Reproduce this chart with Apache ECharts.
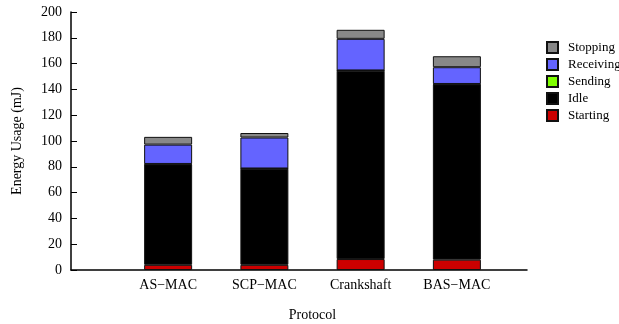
<!DOCTYPE html>
<html><head><meta charset="utf-8">
<script src="https://cdn.jsdelivr.net/npm/echarts@6/dist/echarts.min.js"></script>
<style>html,body{margin:0;padding:0;background:#fff}#c{width:619px;height:324px}</style>
</head><body><div id="c"></div>
<script>
var categories = ['AS\u2212MAC', 'SCP\u2212MAC', 'Crankshaft', 'BAS\u2212MAC'];
var starting = [4, 4, 8.5, 8];
var idle = [78, 74.5, 146, 136];
var sending = [0.2, 0.2, 0.2, 0.2];
var receiving = [15, 24, 24.5, 13];
var stopping = [6, 3.5, 7, 8.5];
var yTicks = [0, 20, 40, 60, 80, 100, 120, 140, 160, 180, 200];

var font = 'Liberation Serif, Times New Roman, serif';
function mk(name, vals, color){
  return {name:name, type:'bar', stack:'e', data:vals, barWidth:48,
    xAxisIndex:0, yAxisIndex:0,
    itemStyle:{color:color, borderColor:'#111', borderWidth:1}};
}
var chart = echarts.init(document.getElementById('c'));
chart.setOption({
  animation:false,
  textStyle:{fontFamily:font},
  grid:[
    {left:120, top:12, right:114, bottom:54, containLabel:false, outerBoundsMode:'none'},
    {left:71, top:12, right:92, bottom:54, containLabel:false, outerBoundsMode:'none'}
  ],
  legend:{orient:'vertical', left:541, top:36, itemWidth:11, itemHeight:11, itemGap:4,
    icon:'rect',
    data:['Stopping','Receiving','Sending','Idle','Starting'],
    textStyle:{fontFamily:font, fontSize:13, lineHeight:11, color:'#000', padding:[0,0,0,5]}},
  xAxis:[
    {type:'category', gridIndex:0, data:categories, boundaryGap:true,
      name:'Protocol', nameLocation:'middle', nameGap:38,
      nameTextStyle:{fontFamily:font, fontSize:14, color:'#000'},
      axisLine:{show:false}, axisTick:{show:false}, splitLine:{show:false},
      axisLabel:{fontFamily:font, fontSize:14, color:'#000', margin:8, interval:0}},
    {type:'value', gridIndex:1, min:0, max:1,
      axisLine:{show:true, lineStyle:{color:'#000', width:1.5}},
      axisTick:{show:false}, axisLabel:{show:false}, splitLine:{show:false}}
  ],
  yAxis:[
    {type:'value', gridIndex:0, min:yTicks[0], max:yTicks[yTicks.length-1], interval:20,
      show:false},
    {type:'value', gridIndex:1, min:yTicks[0], max:yTicks[yTicks.length-1], interval:20,
      name:'Energy Usage (mJ)', nameLocation:'middle', nameGap:47,
      nameTextStyle:{fontFamily:font, fontSize:14, color:'#000'},
      axisLine:{show:true, lineStyle:{color:'#000', width:1.5}},
      axisTick:{show:true, inside:true, length:6, lineStyle:{color:'#000'}},
      splitLine:{show:false},
      axisLabel:{fontFamily:font, fontSize:14, color:'#000', margin:9}}
  ],
  series:[
    mk('Starting', starting, '#cc0000'),
    mk('Idle', idle, '#000000'),
    mk('Sending', sending, '#7fff00'),
    mk('Receiving', receiving, '#6464ff'),
    mk('Stopping', stopping, '#888888')
  ]
});
</script></body></html>
